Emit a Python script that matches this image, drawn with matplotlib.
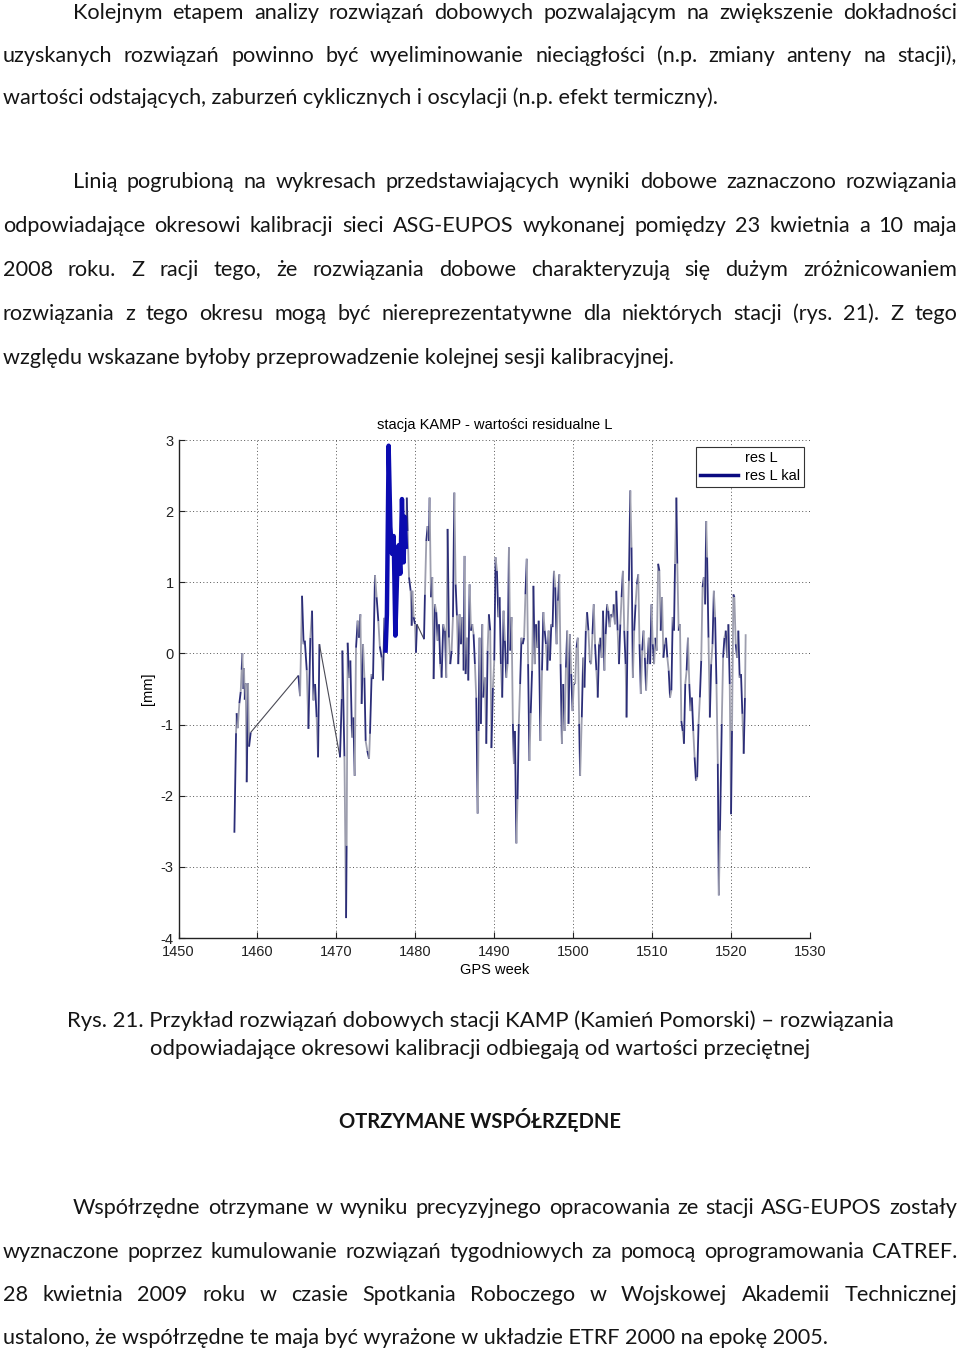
import matplotlib
matplotlib.use('Agg')
import matplotlib.pyplot as plt
from matplotlib.lines import Line2D
from matplotlib.collections import LineCollection

plt.rcParams['axes.unicode_minus'] = False

W, H = 960, 1352
BODY = ['Lato', 'DejaVu Sans']
CHART = ['Liberation Sans', 'DejaVu Sans']
INK = '#151515'

# dane: (tydzien GPS, residuum L [mm])
res_l_a = [(1457.08, -2.52), (1457.29, -1.12), (1457.37, -0.84), (1457.50, -1.05),
           (1457.71, -0.70), (1457.88, -0.54), (1458.00, -0.23), (1458.09, 0.00),
           (1458.22, -0.50), (1458.30, -0.21), (1458.39, -0.65), (1458.52, -0.42),
           (1458.64, -1.81), (1458.81, -0.42), (1458.94, -1.31), (1459.15, -1.11)]
res_l_b = [(1465.19, -0.31), (1465.40, -0.60), (1465.65, 0.81), (1465.85, 0.13),
           (1466.00, 0.18), (1466.25, -0.24), (1466.46, -1.06), (1466.70, 0.22),
           (1466.92, 0.60), (1467.10, -0.66), (1467.30, -0.43), (1467.50, -0.90),
           (1467.68, -1.46), (1467.85, 0.13)]
res_l_c = [(1470.46, -1.46), (1470.68, -0.64), (1470.76, 0.04), (1471.02, -1.45),
           (1471.23, -3.72), (1471.30, -2.70), (1471.43, 0.15), (1471.60, -0.34),
           (1471.77, -0.10), (1471.98, -1.18), (1472.15, -0.90), (1472.32, -1.72),
           (1472.49, 0.08), (1472.70, 0.46), (1472.87, 0.22), (1473.04, 0.55),
           (1473.20, -0.71), (1473.38, 0.13), (1473.55, -0.34), (1473.71, -1.23),
           (1473.92, -1.37), (1474.14, -1.48), (1474.26, -1.13), (1474.47, -0.29),
           (1474.64, -0.36), (1474.89, 1.10), (1475.10, 0.79), (1475.32, 0.45),
           (1475.50, 0.10), (1475.74, -0.06), (1475.91, -0.38), (1476.08, 0.50)]
# okres kalibracji ASG-EUPOS (23.04 - 10.05.2008)
res_l_kal = [(1476.24, 0.04), (1476.40, 0.55), (1476.62, 2.92), (1476.84, 1.78),
             (1477.05, 1.40), (1477.26, 1.65), (1477.47, 0.25), (1477.68, 1.05),
             (1477.89, 1.52), (1478.10, 1.12), (1478.31, 2.17), (1478.52, 1.28),
             (1478.66, 1.92), (1478.80, 1.50)]
res_l_d = [(1478.92, 2.19), (1479.03, 1.72), (1479.20, 1.07), (1479.41, 0.88),
           (1479.54, 0.39), (1479.62, 0.88), (1479.79, 0.51), (1479.96, 0.41),
           (1480.08, 0.01), (1480.21, 0.41), (1481.10, 0.20), (1481.22, 0.83),
           (1481.39, 1.58), (1481.56, 1.79), (1481.73, 1.58), (1481.81, 2.19),
           (1481.98, 0.79), (1482.15, 1.07), (1482.32, -0.36), (1482.49, 0.69),
           (1482.66, 0.58), (1482.83, 0.18), (1483.00, 0.41), (1483.16, -0.15),
           (1483.33, -0.34), (1483.54, 0.41), (1483.76, 0.32), (1483.92, -0.34),
           (1484.09, 1.75), (1484.26, 0.22), (1484.43, -0.15), (1484.60, 0.04),
           (1484.77, 0.51), (1484.94, 2.26), (1485.11, 0.97), (1485.27, 0.53),
           (1485.44, -0.15), (1485.61, 0.55), (1485.78, 0.13), (1485.95, 0.51),
           (1486.12, -0.24), (1486.24, 1.37), (1486.37, -0.29), (1486.54, 0.22),
           (1486.71, -0.38), (1486.88, 0.97), (1487.05, 0.32), (1487.22, 0.41),
           (1487.38, 0.27), (1487.55, -0.15), (1487.72, -0.62), (1487.90, -2.25),
           (1488.02, -1.09), (1488.14, 0.22), (1488.31, -0.99), (1488.48, 0.41),
           (1488.61, -0.62), (1488.82, -0.34), (1488.99, -1.27), (1489.16, 0.04),
           (1489.32, 0.55), (1489.49, 0.32), (1489.64, -1.33), (1489.83, -0.48),
           (1490.00, -0.10), (1490.17, 1.35), (1490.34, 1.16), (1490.51, 0.51),
           (1490.68, 0.79), (1490.84, -0.15), (1491.01, -0.62), (1491.18, 0.60),
           (1491.35, 0.18), (1491.52, -0.34), (1491.69, -0.15), (1491.86, 1.49),
           (1492.03, 0.04), (1492.19, 0.51), (1492.36, -0.99), (1492.49, -1.55),
           (1492.62, -1.09), (1492.80, -2.67), (1492.95, -2.05), (1493.11, -0.99),
           (1493.28, -0.43), (1493.45, 0.22), (1493.61, 0.13), (1493.78, 0.22),
           (1493.95, 0.83), (1494.12, 1.33), (1494.29, -0.15), (1494.45, -1.51),
           (1494.62, -0.84), (1494.79, -0.24), (1494.96, 0.95), (1495.13, -0.15),
           (1495.29, 0.41), (1495.46, 0.08), (1495.63, 0.46), (1495.84, -1.23),
           (1496.05, -0.24), (1496.22, 0.58), (1496.39, 0.32), (1496.55, 0.13),
           (1496.72, -0.24), (1496.89, 0.32), (1497.06, -0.10), (1497.23, 0.41),
           (1497.39, 0.37), (1497.56, 1.16), (1497.73, 0.93), (1497.90, 0.13),
           (1498.07, 0.74), (1498.24, 1.11), (1498.40, -0.15), (1498.57, -1.27),
           (1498.74, -0.43), (1498.91, -1.09), (1499.08, -0.20), (1499.24, 0.32),
           (1499.41, -0.99), (1499.58, 0.27), (1499.75, -0.29), (1499.92, -0.81),
           (1500.08, -0.43), (1500.25, -0.43), (1500.42, 0.08), (1500.59, 0.22),
           (1500.76, -0.99), (1500.88, -1.72), (1501.09, -0.90), (1501.26, -0.06),
           (1501.43, -0.48), (1501.60, 0.32), (1501.76, 0.58), (1501.93, 0.32),
           (1502.10, -0.10), (1502.27, -0.15), (1502.44, 0.27), (1502.61, 0.69),
           (1502.77, 0.13), (1502.94, -0.24), (1503.11, -0.62), (1503.28, 0.13),
           (1503.45, 0.22), (1503.61, -0.06), (1503.78, 0.60), (1503.95, -0.24),
           (1504.12, 0.27), (1504.29, 0.69), (1504.45, 0.60), (1504.62, 0.37),
           (1504.79, 0.55), (1504.96, 0.51), (1505.13, 0.69), (1505.29, 0.41),
           (1505.46, 0.88), (1505.63, 0.32), (1505.80, -0.15), (1505.97, 0.41),
           (1506.13, 0.79), (1506.30, 1.16), (1506.47, 0.32), (1506.64, -0.15),
           (1506.76, -0.90), (1506.89, 0.32), (1507.06, 1.02), (1507.23, 2.29),
           (1507.39, 1.49), (1507.56, -0.34), (1507.73, 0.32), (1507.90, 0.69),
           (1508.07, 0.97), (1508.24, 1.11), (1508.40, 0.13), (1508.57, -0.57),
           (1508.74, 0.04), (1508.91, 0.32), (1509.08, -0.06), (1509.24, -0.52),
           (1509.41, -0.15), (1509.58, 0.22), (1509.75, -0.15), (1509.92, 0.69),
           (1510.08, 0.13), (1510.25, -0.15), (1510.42, 0.22), (1510.59, 0.04),
           (1510.76, 1.26), (1510.92, 1.16), (1511.09, 0.32), (1511.26, 0.79),
           (1511.43, -0.06), (1511.60, 0.13), (1511.76, 0.22), (1511.93, -0.06),
           (1512.10, -0.24), (1512.27, -0.62), (1512.44, -0.52), (1512.61, 0.51),
           (1512.77, 0.32), (1512.90, 1.26), (1513.07, 2.19), (1513.19, 1.26),
           (1513.36, 0.32), (1513.53, 0.41), (1513.70, -0.95), (1513.87, -1.09),
           (1514.03, -1.27), (1514.20, -0.43), (1514.37, -0.24), (1514.54, 0.22),
           (1514.71, -0.43), (1514.87, -0.81), (1515.04, -0.62), (1515.21, -1.09),
           (1515.38, -1.46), (1515.55, -1.79), (1515.71, -1.74), (1515.88, -0.99),
           (1516.05, -0.62), (1516.22, -0.10), (1516.39, 0.93), (1516.55, 1.07),
           (1516.72, 0.69), (1516.85, 1.86), (1516.97, 1.35), (1517.14, 0.22),
           (1517.31, -0.90), (1517.48, -0.15), (1517.65, 0.13), (1517.82, 0.88),
           (1517.98, 0.51), (1518.15, -0.43), (1518.32, -1.55), (1518.45, -3.40),
           (1518.60, -2.49), (1518.82, -0.99), (1518.99, -0.06), (1519.16, 0.22),
           (1519.33, 0.32), (1519.50, -0.06), (1519.66, 0.41), (1519.83, -0.43),
           (1520.00, -2.26), (1520.12, -1.09), (1520.29, 0.83), (1520.42, 0.79),
           (1520.59, 0.13), (1520.76, -0.06), (1520.92, 0.32), (1521.09, -0.34),
           (1521.26, -0.29), (1521.43, -0.85), (1521.60, -1.41), (1521.76, -0.62),
           (1521.85, 0.27)]

res_l = res_l_a + res_l_b + res_l_c + res_l_kal + res_l_d
kal_week, kal_val = zip(*res_l_kal)

x_ticks = list(range(1450, 1531, 10))
y_ticks = list(range(-4, 4))

paragraph_1 = [
    "Kolejnym etapem analizy rozwiązań dobowych pozwalającym na zwiększenie dokładności",
    "uzyskanych rozwiązań powinno być wyeliminowanie nieciągłości (n.p. zmiany anteny na stacji),",
    "wartości odstających, zaburzeń cyklicznych i oscylacji (n.p. efekt termiczny).",
]
paragraph_2 = [
    "Linią pogrubioną na wykresach przedstawiających wyniki dobowe zaznaczono rozwiązania",
    "odpowiadające okresowi kalibracji sieci ASG-EUPOS wykonanej pomiędzy 23 kwietnia a 10 maja",
    "2008 roku. Z racji tego, że rozwiązania dobowe charakteryzują się dużym zróżnicowaniem",
    "rozwiązania z tego okresu mogą być niereprezentatywne dla niektórych stacji (rys. 21). Z tego",
    "względu wskazane byłoby przeprowadzenie kolejnej sesji kalibracyjnej.",
]
caption = [
    "Rys. 21. Przykład rozwiązań dobowych stacji KAMP (Kamień Pomorski) – rozwiązania",
    "odpowiadające okresowi kalibracji odbiegają od wartości przeciętnej",
]
heading = "OTRZYMANE WSPÓŁRZĘDNE"
paragraph_3 = [
    "Współrzędne otrzymane w wyniku precyzyjnego opracowania ze stacji ASG-EUPOS zostały",
    "wyznaczone poprzez kumulowanie rozwiązań tygodniowych za pomocą oprogramowania CATREF.",
    "28 kwietnia 2009 roku w czasie Spotkania Roboczego w Wojskowej Akademii Technicznej",
    "ustalono, że współrzędne te maja być wyrażone w układzie ETRF 2000 na epokę 2005.",
]

fig = plt.figure(figsize=(W / 100, H / 100), dpi=100)
fig.patch.set_facecolor('white')
renderer = fig.canvas.get_renderer()


def fx(x):
    return x / W


def fy(y):
    return 1 - y / H


def text_width(s, size, weight='normal'):
    t = fig.text(0, 0, s, fontsize=size, family=BODY, weight=weight)
    w = t.get_window_extent(renderer=renderer).width
    t.remove()
    return w


def fit_size(s, width, weight='normal'):
    return 20 * width / text_width(s, 20, weight)


def put(s, x, y, size, ha='left', weight='normal'):
    fig.text(fx(x), fy(y), s, fontsize=size, family=BODY, weight=weight,
             ha=ha, va='baseline', color=INK)


def justify(s, x0, x1, y, size):
    words = s.split()
    widths = [text_width(w, size) for w in words]
    gap = max((x1 - x0 - sum(widths)) / (len(words) - 1), 2)
    x = x0
    for w, wd in zip(words, widths):
        put(w, x, y, size)
        x += wd + gap


# tekst strony
body = fit_size(paragraph_3[3], 828)
LEFT, RIGHT, INDENT = 3, 957, 73


def paragraph(lines, baselines):
    for i, (s, y) in enumerate(zip(lines, baselines)):
        x0 = INDENT if i == 0 else LEFT
        if i == len(lines) - 1:
            put(s, x0, y, body)
        else:
            justify(s, x0, RIGHT, y, body)


paragraph(paragraph_1, [19, 61.5, 104])
paragraph(paragraph_2, [188, 232, 276, 320, 364])
paragraph(paragraph_3, [1214, 1257.5, 1301, 1344])

cap = fit_size(caption[1], 663)
put(caption[0], 480, 1027, cap, ha='center')
put(caption[1], 480, 1055, cap, ha='center')
put(heading, 480, 1128, fit_size(heading, 282, 'bold'), ha='center', weight='bold')

# wykres
x_left, x_right, y_top, y_bottom = 178.5, 810, 440, 938
ax = fig.add_axes([fx(x_left), fy(y_bottom), (x_right - x_left) / W, (y_bottom - y_top) / H])

# linia res L - odcinki na przemian granatowe i szare (jak na oryginale),
# przerwy w danych cienka ciemna linia
segments, seg_colors, seg_widths = [], [], []
for i in range(len(res_l) - 1):
    segments.append([res_l[i], res_l[i + 1]])
    if res_l[i + 1][0] - res_l[i][0] > 0.5:
        seg_colors.append('#4a4a55')
        seg_widths.append(0.8)
    else:
        seg_colors.append('#2b2d78' if i % 2 == 0 else '#9d9eae')
        seg_widths.append(1.3)
ax.add_collection(LineCollection(segments, colors=seg_colors, linewidths=seg_widths))
ax.plot(kal_week, kal_val, color='#0b0bb0', linewidth=3.2)

ax.set_xlim(1450, 1530)
ax.set_ylim(-4, 3)
ax.set_xticks(x_ticks)
ax.set_yticks(y_ticks)
ax.set_axisbelow(True)
ax.grid(True, linestyle=(0, (1, 2.5)), color='#555555', linewidth=0.7)
for side in ['top', 'right']:
    ax.spines[side].set_visible(False)
for side in ['left', 'bottom']:
    ax.spines[side].set_color('#222222')
    ax.spines[side].set_linewidth(1.0)
ax.tick_params(direction='in', length=4, width=0.8, colors='#222222', labelsize=10.5)
ax.tick_params(axis='x', pad=5)
ax.tick_params(axis='y', pad=3.5)
for lab in ax.get_xticklabels() + ax.get_yticklabels():
    lab.set_family(CHART)

ax.set_title('stacja KAMP - wartości residualne L', family=CHART, fontsize=10.5, pad=8)
ax.set_xlabel('GPS week', family=CHART, fontsize=10.5, va='baseline')
ax.xaxis.set_label_coords(0.5, -(974 - y_bottom) / (y_bottom - y_top))
ax.set_ylabel('[mm]', family=CHART, fontsize=10.5, va='center')
ax.yaxis.set_label_coords(-(x_left - 148) / (x_right - x_left), 0.5)

handles = [Line2D([], [], color='none'), Line2D([], [], color='#0a0a80', linewidth=2.5)]
leg = ax.legend(handles, ['res L', 'res L kal'], loc='upper right',
                bbox_to_anchor=((804 - x_left) / (x_right - x_left), 1 - 7 / (y_bottom - y_top)),
                borderaxespad=0, fancybox=False, framealpha=1, edgecolor='#333333',
                handlelength=2.6, handletextpad=0.5, borderpad=0.25, labelspacing=0.32,
                prop={'family': CHART, 'size': 10.5})
leg.get_frame().set_linewidth(0.8)

fig.savefig('out.png', dpi=100, facecolor='white')
